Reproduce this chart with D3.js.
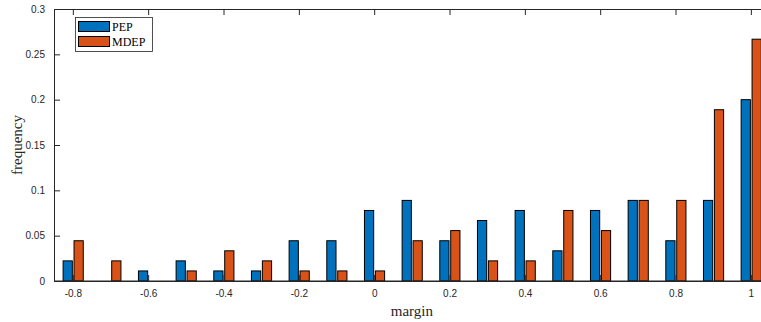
<!DOCTYPE html>
<html><head><meta charset="utf-8">
<script src="https://cdn.jsdelivr.net/npm/d3@7"></script>
<style>body{margin:0;background:#fff}svg{display:block}</style>
</head><body>
<script>
const categories = [-0.8,-0.7,-0.6,-0.5,-0.4,-0.3,-0.2,-0.1,0,0.1,0.2,0.3,0.4,0.5,0.6,0.7,0.8,0.9,1.0];
const pepValues  = [0.0222,0,0.0111,0.0222,0.0111,0.0111,0.0444,0.0444,0.0778,0.0889,0.0444,0.0667,0.0778,0.0333,0.0778,0.0889,0.0444,0.0889,0.2];
const mdepValues = [0.0444,0.0222,0,0.0111,0.0333,0.0222,0.0111,0.0111,0.0111,0.0444,0.0556,0.0222,0.0222,0.0778,0.0556,0.0889,0.0889,0.1889,0.2667];
const seriesNames = ["PEP","MDEP"];
const xTicks = [-0.8,-0.6,-0.4,-0.2,0,0.2,0.4,0.6,0.8,1];
const yTicks = [0,0.05,0.1,0.15,0.2,0.25,0.3];

const W=761,H=322;
const svg=d3.select("body").append("svg").attr("width",W).attr("height",H);
const L=54,T=9,B=281;
const x=d3.scaleLinear().domain([-0.85,1.05]).range([L,L+715.7]);
const y=d3.scaleLinear().domain([0,0.3]).range([B,T]);
const colors=["#0072BD","#D95319"];
const bw=x(0.0245)-x(0);
const off=[-(bw+1)+0.5, 1.2];

// bars
[pepValues,mdepValues].forEach((vals,si)=>{
  svg.append("g").selectAll("rect").data(vals).join("rect")
    .attr("x",(d,i)=>x(categories[i])+off[si])
    .attr("y",d=>y(d))
    .attr("width",bw)
    .attr("height",d=>B-y(d))
    .attr("fill",colors[si])
    .attr("stroke","#000").attr("stroke-width",1);
});
// baseline
svg.append("line").attr("x1",L).attr("x2",W).attr("y1",B).attr("y2",B)
  .attr("stroke","#262626").attr("stroke-width",1.2);

// axes
const fontS="'Liberation Sans',Arial,Helvetica,sans-serif";
const fmt=d=>String(+(+d).toFixed(2));
const xb=d3.axisBottom(x).tickValues(xTicks).tickSize(-6).tickPadding(9).tickFormat(fmt);
const gx=svg.append("g").attr("transform",`translate(0,${B})`).call(xb);
const xt=d3.axisTop(x).tickValues(xTicks).tickSize(-6).tickFormat("");
const gxt=svg.append("g").attr("transform",`translate(0,${T})`).call(xt);
const yl=d3.axisLeft(y).tickValues(yTicks).tickSize(-6).tickPadding(9).tickFormat(fmt);
const gy=svg.append("g").attr("transform",`translate(${L},0)`).call(yl);
[gx,gxt,gy].forEach(g=>{
  g.selectAll("path,line").attr("stroke","#262626").attr("stroke-width",1);
  g.selectAll("text").attr("fill","#262626").style("font-family",fontS).style("font-size","10px");
});
gx.select(".domain").attr("d",`M${L},0.5H${W}`);
gxt.select(".domain").attr("d",`M${L},0.5H${W}`);

// labels
svg.append("text").attr("x",x(0.1)).attr("y",316).attr("text-anchor","middle")
  .style("font-family","'Liberation Serif','Times New Roman',serif").style("font-size","15px").attr("fill","#262626").text("margin");
svg.append("text").attr("transform","translate(22,145) rotate(-90)").attr("text-anchor","middle")
  .style("font-family","'Liberation Serif','Times New Roman',serif").style("font-size","15px").attr("fill","#262626").text("frequency");

// legend
const lg=svg.append("g");
lg.append("rect").attr("x",75.5).attr("y",17.5).attr("width",77).attr("height",34).attr("fill","#fff").attr("stroke","#262626").attr("stroke-width",0.8);
seriesNames.forEach((n,i)=>{
  lg.append("rect").attr("x",78.5).attr("y",21.5+i*15).attr("width",31).attr("height",10).attr("fill",colors[i]).attr("stroke","#000");
  lg.append("text").attr("x",112).attr("y",31+i*15).style("font-family","'Liberation Serif','Times New Roman',serif").style("font-size","12px").attr("fill","#000").text(n);
});
</script>
</body></html>
